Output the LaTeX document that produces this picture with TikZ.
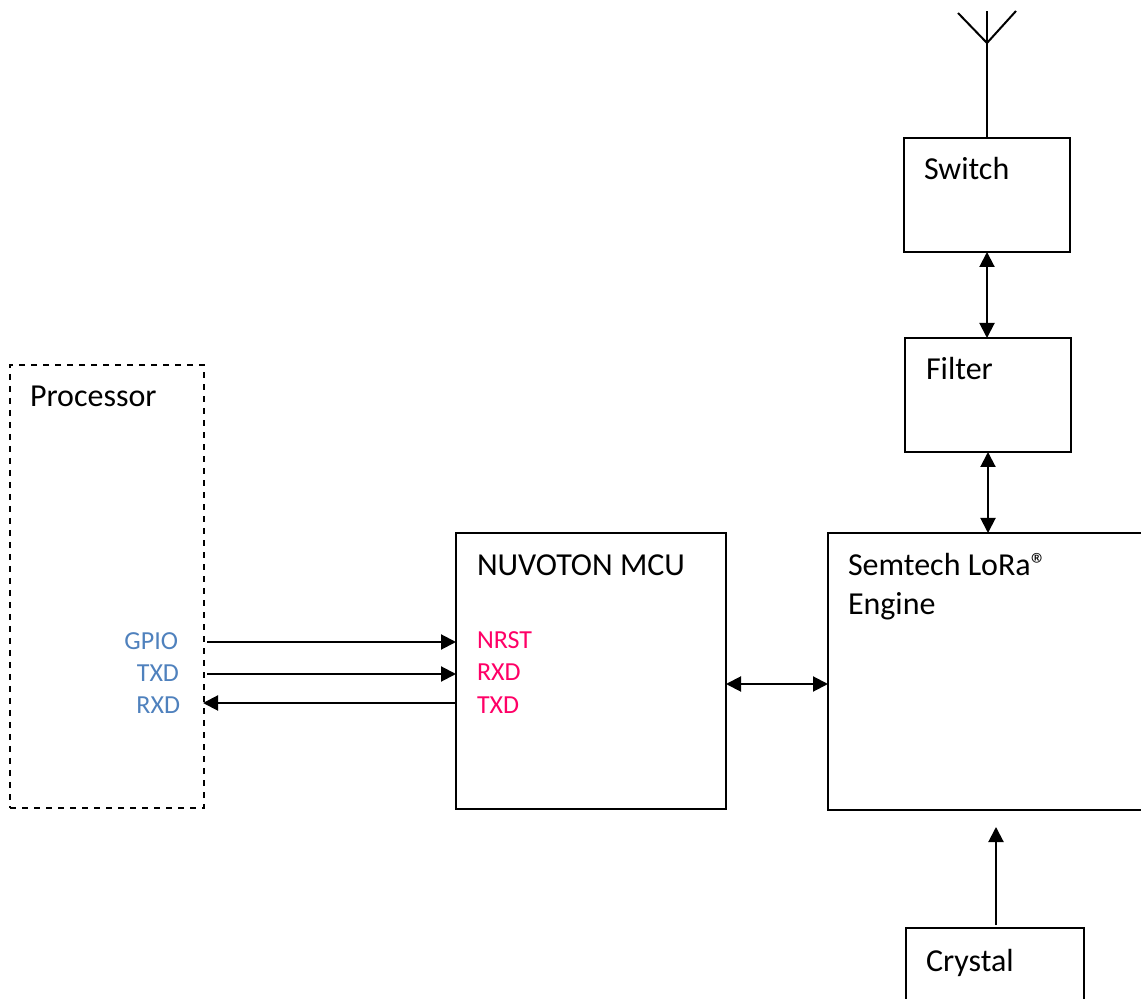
\documentclass[tikz,border=0pt]{standalone}
\usepackage{fontspec}
\usepackage{xcolor}
\setmainfont{Carlito}
\usetikzlibrary{arrows.meta}
\definecolor{pinBlue}{HTML}{4F81BD}
\definecolor{pinPink}{HTML}{FF0066}

\begin{document}
\begin{tikzpicture}[x=0.5pt, y=-0.5pt, line width=1pt,
    tip/.style={-{Triangle[length=7.5pt,width=7.5pt]}},
    tiptwo/.style={{Triangle[length=7.5pt,width=7.5pt]}-{Triangle[length=7.5pt,width=7.5pt]}},
    block/.style={draw, inner sep=0pt, outer sep=0pt},
    title/.style={anchor=base west, inner sep=0pt, font=\fontsize{16}{19}\selectfont},
    blue pin/.style={anchor=base east, inner sep=0pt, text=pinBlue, font=\fontsize{13}{15}\selectfont},
    pink pin/.style={anchor=base west, inner sep=0pt, text=pinPink, font=\fontsize{13}{15}\selectfont}]

    \useasboundingbox (0,0) rectangle (1141,999);
    \clip (0,0) rectangle (1141,999);

    % Blocks
    \node[block, dashed, minimum width=97pt, minimum height=221.5pt] (processor) at (107,586.5) {};
    \foreach \blockName/\cx/\cy/\w/\h in {mcu/591/671/135/138, semtech/1000/671.5/172/138.5,
        switch/987/195/83/57, filter/988/395/83/57, crystal/995/969/89/41}
        \node[block, minimum width=\w pt, minimum height=\h pt] (\blockName) at (\cx,\cy) {};

    % Titles
    \node[title] (processorText) at (29,407) {Processor};
    \node[title] (mcuText) at (476,576) {NUVOTON MCU};
    \node[title] (semtechText) at (847,576) {Semtech LoRa\textregistered};
    \node[title] (engineText) at (847,615) {Engine};
    \node[title] (switchText) at (923,180) {Switch};
    \node[title] (filterText) at (925,380) {Filter};
    \node[title] (crystalText) at (925,971) {Crystal};

    % Pins
    \node[blue pin] (gpioPin) at (179,650) {GPIO};
    \node[blue pin] (txdPin) at (180,682) {TXD};
    \node[blue pin] (rxdPin) at (181,714) {RXD};
    \node[pink pin] (nrstPin) at (476,649) {NRST};
    \node[pink pin] (rxdIn) at (476,681) {RXD};
    \node[pink pin] (txdOut) at (476,713) {TXD};

    % Free ends of the connectors
    \coordinate (gpioStart) at (207,642);
    \coordinate (txdStart) at (207,674);
    \coordinate (rxdEnd) at (203,703);
    \coordinate (linkLevel) at (0,684);
    \coordinate (crystalTip) at (996,827);
    \coordinate (crystalStart) at (996,925);
    \coordinate (antFoot) at (987,43);
    \coordinate (antTop) at (987,11);
    \coordinate (antLeft) at (958,13);
    \coordinate (antRight) at (1016,11);

    % Connectors
    \draw[tip] (gpioStart) -- (gpioStart -| mcu.west);
    \draw[tip] (txdStart) -- (txdStart -| mcu.west);
    \draw[tip] (rxdEnd -| mcu.west) -- (rxdEnd);
    \draw[tiptwo] (mcu.east |- linkLevel) -- (semtech.west |- linkLevel);
    \draw[tiptwo] (filter.south) -- (filter.south |- semtech.north);
    \draw[tiptwo] (switch.south) -- (switch.south |- filter.north);
    \draw[tip] (crystalStart) -- (crystalTip);
    \draw (switch.north) -- (antTop);
    \draw (antLeft) -- (antFoot) -- (antRight);
\end{tikzpicture}
\end{document}
